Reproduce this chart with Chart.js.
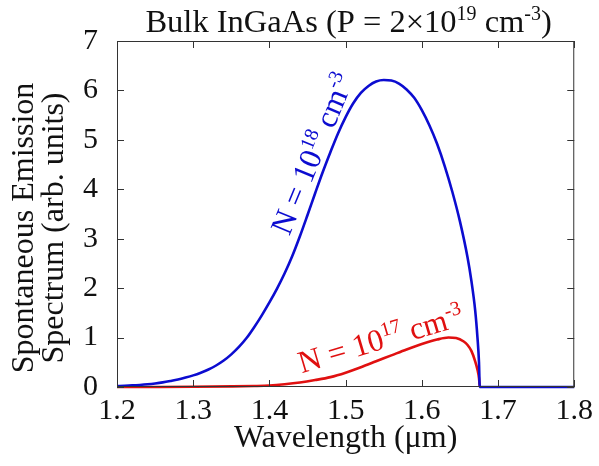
<!DOCTYPE html>
<html>
<head>
<meta charset="utf-8">
<script src="https://cdn.jsdelivr.net/npm/chart.js@4.4.0/dist/chart.umd.min.js"></script>
<style>
html,body{margin:0;padding:0;background:#fff;}
#wrap{width:599px;height:466px;}
</style>
</head>
<body>
<div id="wrap"><canvas id="c" width="599" height="466"></canvas></div>
<script>
// ---- data ----
const wavelengthHigh = [1.20, 1.21, 1.22, 1.23, 1.24, 1.25, 1.26, 1.27, 1.28, 1.29, 1.30, 1.31, 1.32, 1.33, 1.34, 1.35, 1.36, 1.37, 1.38, 1.39, 1.40, 1.41, 1.42, 1.43, 1.44, 1.45, 1.46, 1.47, 1.48, 1.49, 1.50, 1.51, 1.52, 1.53, 1.54, 1.55, 1.56, 1.57, 1.58, 1.59, 1.60, 1.61, 1.62, 1.63, 1.64, 1.65, 1.66, 1.665, 1.67, 1.673, 1.675, 1.676, 1.70, 1.80];
const emissionHigh   = [0.02, 0.025, 0.032, 0.042, 0.055, 0.072, 0.093, 0.12, 0.15, 0.19, 0.235, 0.29, 0.355, 0.435, 0.535, 0.66, 0.81, 0.99, 1.21, 1.45, 1.71, 1.99, 2.30, 2.65, 3.05, 3.48, 3.92, 4.35, 4.75, 5.13, 5.46, 5.74, 5.95, 6.09, 6.18, 6.21, 6.20, 6.14, 6.02, 5.85, 5.60, 5.29, 4.92, 4.47, 3.95, 3.35, 2.62, 2.15, 1.55, 1.00, 0.50, 0.00, 0.00, 0.00];
const wavelengthLow  = [1.20, 1.25, 1.30, 1.35, 1.38, 1.40, 1.42, 1.44, 1.46, 1.48, 1.50, 1.52, 1.54, 1.56, 1.58, 1.60, 1.62, 1.635, 1.645, 1.655, 1.66, 1.665, 1.67, 1.673, 1.675, 1.676];
const emissionLow    = [0.00, 0.001, 0.004, 0.012, 0.02, 0.03, 0.055, 0.09, 0.14, 0.20, 0.29, 0.40, 0.52, 0.64, 0.76, 0.87, 0.96, 1.00, 0.99, 0.92, 0.85, 0.73, 0.52, 0.35, 0.18, 0.00];
const xTicks = [1.2, 1.3, 1.4, 1.5, 1.6, 1.7, 1.8];
const yTicks = [0, 1, 2, 3, 4, 5, 6, 7];
const titleParts = [["Bulk InGaAs (P = 2\u00d710", false], ["19", true], [" cm", false], ["-3", true], [")", false]];
const xTitle = "Wavelength (\u03bcm)";
const yTitleLines = ["Spontaneous Emission", "Spectrum (arb. units)"];
const labelHigh = [["N = 10", false], ["18", true], [" cm", false], ["-3", true]];
const labelLow  = [["N = 10", false], ["17", true], [" cm", false], ["-3", true]];
// label anchors in data units
const labelHighAt = {x: 1.458, y: 4.71, angle: -67.5};
const labelLowAt  = {x: 1.5466, y: 0.945, angle: -16.5};

const FONT = "'Liberation Serif', 'Times New Roman', serif";
const BLUE = "#0c0cd0";
const RED = "#e01010";

function pts(xs, ys){ return xs.map((x,i)=>({x:x, y:ys[i]})); }

function richWidth(ctx, parts, size){
  let w = 0;
  for (const [t, sup] of parts){
    ctx.font = (sup ? Math.round(size*0.62) : size) + "px " + FONT;
    w += ctx.measureText(t).width;
  }
  return w;
}
function drawRich(ctx, parts, x, y, size, color){
  // x is center, y is baseline
  const w = richWidth(ctx, parts, size);
  let cx = x - w/2;
  ctx.fillStyle = color;
  ctx.textBaseline = "alphabetic";
  ctx.textAlign = "left";
  for (const [t, sup] of parts){
    ctx.font = (sup ? Math.round(size*0.62) : size) + "px " + FONT;
    ctx.fillText(t, cx, sup ? y - size*0.38 : y);
    cx += ctx.measureText(t).width;
  }
}

const decor = {
  id: 'decor',
  afterDraw(chart){
    const ctx = chart.ctx;
    const a = chart.chartArea;
    const xs = chart.scales.x, ys = chart.scales.y;
    ctx.save();
    // box
    ctx.strokeStyle = "#333";
    ctx.lineWidth = 1;
    ctx.strokeRect(a.left+0.5, a.top+0.5, a.right-a.left-1, a.bottom-a.top-1);
    // inward ticks on all four sides
    const tl = 7;
    ctx.beginPath();
    for (const v of xTicks){
      const px = Math.round(xs.getPixelForValue(v)) + 0.5;
      ctx.moveTo(px, a.bottom); ctx.lineTo(px, a.bottom - tl);
      ctx.moveTo(px, a.top); ctx.lineTo(px, a.top + tl);
    }
    for (const v of yTicks){
      const py = Math.round(ys.getPixelForValue(v)) + 0.5;
      ctx.moveTo(a.left, py); ctx.lineTo(a.left + tl, py);
      ctx.moveTo(a.right, py); ctx.lineTo(a.right - tl, py);
    }
    ctx.stroke();
    // title
    drawRich(ctx, titleParts, (a.left + a.right)/2 + 3, 32, 32.5, "#111");
    // x title
    ctx.fillStyle = "#111";
    ctx.font = "32px " + FONT;
    ctx.textAlign = "center";
    ctx.textBaseline = "alphabetic";
    ctx.fillText(xTitle, (a.left + a.right)/2, 447);
    // y title (two lines)
    ctx.save();
    ctx.translate(0, (a.top + a.bottom)/2 + 14);
    ctx.rotate(-Math.PI/2);
    ctx.fillText(yTitleLines[0], 0, 33);
    ctx.fillText(yTitleLines[1], 0, 63);
    ctx.restore();
    // curve labels
    const drawLabel = (parts, at, color) => {
      ctx.save();
      ctx.translate(xs.getPixelForValue(at.x), ys.getPixelForValue(at.y));
      ctx.rotate(at.angle * Math.PI/180);
      drawRich(ctx, parts, 0, 9, 31.5, color);
      ctx.restore();
    };
    drawLabel(labelHigh, labelHighAt, BLUE);
    drawLabel(labelLow, labelLowAt, RED);
    ctx.restore();
  }
};

new Chart(document.getElementById('c'), {
  type: 'line',
  data: {
    datasets: [
      { data: pts(wavelengthHigh, emissionHigh), borderColor: BLUE, borderWidth: 2.6, pointRadius: 0, cubicInterpolationMode: 'monotone', fill: false, clip: false },
      { data: pts(wavelengthLow, emissionLow), borderColor: RED, borderWidth: 2.6, pointRadius: 0, cubicInterpolationMode: 'monotone', fill: false, clip: false }
    ]
  },
  options: {
    responsive: false,
    animation: false,
    events: [],
    layout: { padding: { top: 41, right: 20, left: 0, bottom: 0 } },
    plugins: { legend: { display: false }, title: { display: false }, tooltip: { enabled: false } },
    scales: {
      x: {
        type: 'linear', min: 1.2, max: 1.8,
        afterBuildTicks: s => { s.ticks = xTicks.map(v => ({value: v})); },
        ticks: { callback: v => Number(v).toFixed(1), font: { family: FONT, size: 30 }, color: "#111", padding: 6, maxRotation: 0, autoSkip: false },
        grid: { display: false, drawTicks: false },
        border: { display: false },
        afterFit: s => { s.height = 79; }
      },
      y: {
        type: 'linear', min: 0, max: 7,
        afterBuildTicks: s => { s.ticks = yTicks.map(v => ({value: v})); },
        ticks: { callback: v => String(v), font: { family: FONT, size: 30 }, color: "#111", padding: 19, autoSkip: false },
        grid: { display: false, drawTicks: false },
        border: { display: false },
        afterFit: s => { s.width = 117; }
      }
    }
  },
  plugins: [decor]
});
</script>
</body>
</html>
